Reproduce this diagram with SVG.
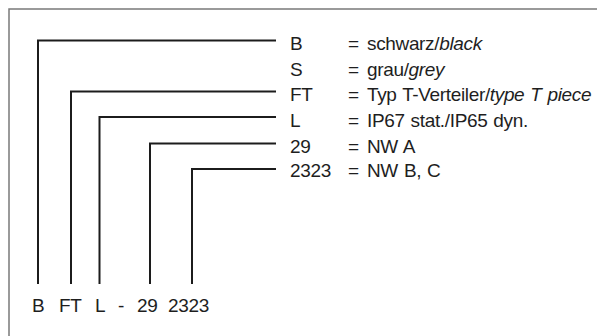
<svg xmlns="http://www.w3.org/2000/svg" width="597" height="336" viewBox="0 0 597 336">
<style>
.frame{stroke:#7a7a7a;stroke-width:1.5;fill:none}
.conn{stroke:#1c1c1c;stroke-width:2;fill:none}
text{font-family:"Liberation Sans",Arial,sans-serif;font-size:19px;letter-spacing:-0.35px;word-spacing:1px;fill:#1e1e1e}
.it{font-style:italic}
</style>
<rect width="597" height="336" fill="#fff"/>
<path class="frame" d="M9 336 V9 H597"/>
<g id="connectors">
<path class="conn" d="M38 284 V40.5 H276"/>
<path class="conn" d="M71 284 V91.5 H276"/>
<path class="conn" d="M99.5 284 V117 H276"/>
<path class="conn" d="M150 284 V143.5 H276"/>
<path class="conn" d="M192 284 V169 H276"/>
</g>
<g id="legend-B"><text x="290" y="50">B</text><text x="348" y="50">=</text><text x="367" y="50">schwarz/<tspan class="it">black</tspan></text></g>
<g id="legend-S"><text x="290" y="76">S</text><text x="348" y="76">=</text><text x="367" y="76">grau/<tspan class="it">grey</tspan></text></g>
<g id="legend-FT"><text x="290" y="101">FT</text><text x="348" y="101">=</text><text x="367" y="101">Typ T-Verteiler/<tspan class="it">type T piece</tspan></text></g>
<g id="legend-L"><text x="290" y="127">L</text><text x="348" y="127">=</text><text x="367" y="127">IP67 stat./IP65 dyn.</text></g>
<g id="legend-29"><text x="290" y="153">29</text><text x="348" y="153">=</text><text x="367" y="153">NW A</text></g>
<g id="legend-2323"><text x="290" y="177">2323</text><text x="348" y="177">=</text><text x="367" y="177">NW B, C</text></g>
<g id="code">
<text x="32" y="312">B</text>
<text x="59" y="312">FT</text>
<text x="95" y="312">L</text>
<text x="118" y="312">-</text>
<text x="137" y="312">29</text>
<text x="168" y="312">2323</text>
</g>
</svg>
